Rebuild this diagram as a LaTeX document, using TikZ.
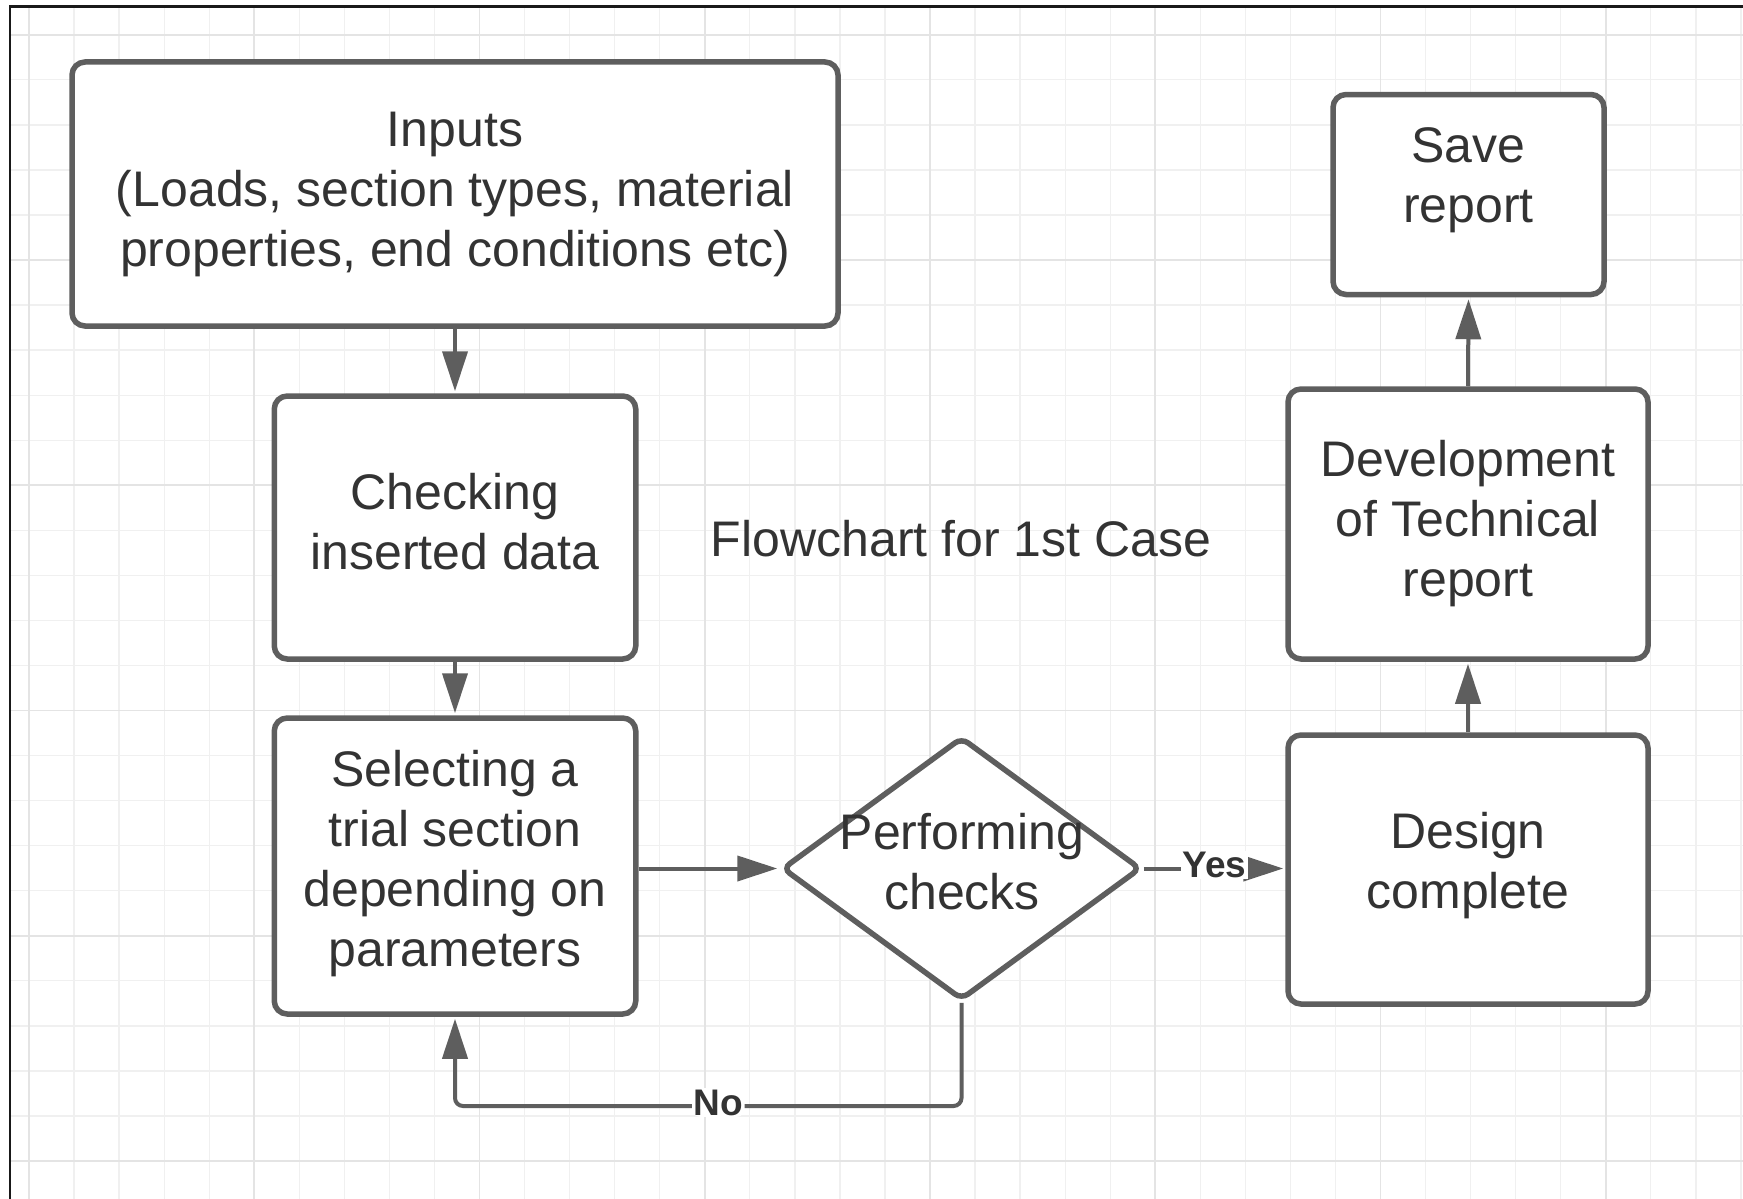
\documentclass[tikz,border=0pt]{standalone}
\usepackage{fontspec}
\setmainfont{Liberation Sans}
\usetikzlibrary{arrows.meta,shapes.geometric}
\definecolor{edge}{HTML}{5E5E5E}
\definecolor{ink}{HTML}{333333}
\definecolor{gridlight}{HTML}{F0F0F0}
\definecolor{gridheavy}{HTML}{E4E4E4}
\newcommand\bodyfont{\fontsize{50}{60}\selectfont}
\newcommand\tagfont{\fontsize{37}{44}\selectfont\bfseries}

\begin{document}
\begin{tikzpicture}[x=1pt,y=-1pt,
  box/.style={draw=edge, line width=5.5pt, rounded corners=13pt, fill=white,
    align=center, font=\bodyfont, text=ink, inner sep=0pt},
  decision/.style={diamond, draw=edge, line width=5.5pt, rounded corners=8pt,
    fill=white, inner sep=0pt},
  conn/.style={draw=edge, line width=4pt, shorten >=2pt,
    -{Triangle[length=40pt,width=25pt]}},
  tag/.style={font=\tagfont, text=ink, fill=white, inner sep=1.5pt, yshift=3.5pt},
  plain/.style={font=\bodyfont, text=ink, align=center, inner sep=0pt}]

% page and background
\useasboundingbox (0,0) rectangle (1743,1199);
\fill[white] (0,0) rectangle (1743,1199);

% drawing-board grid
\begin{scope}
  \clip (10,6.5) rectangle (1743,1199);
  \foreach \k in {0,...,38}
    \draw[gridlight, line width=1.3pt] ({29+45.05*\k},0) -- ({29+45.05*\k},1199);
  \foreach \k in {0,...,25}
    \draw[gridlight, line width=1.3pt] (0,{34.75+45.05*\k}) -- (1743,{34.75+45.05*\k});
  \foreach \k in {0,5,...,35}
    \draw[gridheavy, line width=1.7pt] ({29+45.05*\k},0) -- ({29+45.05*\k},1199);
  \foreach \k in {0,5,...,25}
    \draw[gridheavy, line width=1.7pt] (0,{34.75+45.05*\k}) -- (1743,{34.75+45.05*\k});
\end{scope}

% frame
\draw[black!90, line width=2.2pt] (10,1210) -- (10,6.5) -- (1750,6.5);

% process steps
\node[box, minimum width=766pt, minimum height=264pt] (inputs) at (455,194)
  {Inputs\\(Loads, section types, material\\properties, end conditions etc)};
\node[box, minimum width=361.5pt, minimum height=263pt] (checking) at (455,527.5) {};
\node[plain] (checkingtext) at (455,521.5) {Checking\\inserted data};
\node[box, minimum width=361.5pt, minimum height=296pt] (selecting) at (455,866) {};
\node[plain] (selectingtext) at (455,863.5) {Selecting a\\trial section\\depending on\\parameters};
\node[decision, minimum width=359pt, minimum height=263pt] (checks) at (961.5,868.5) {};
\node[plain] (checkstext) at (962,862) {Performing\\checks};
\node[box, minimum width=360pt, minimum height=269pt] (design) at (1468,869.5) {};
\node[plain] (designtext) at (1468,866) {Design\\complete};
\node[box, minimum width=360pt, minimum height=270pt] (develop) at (1468,524)
  {Development\\of Technical\\report};
\node[box, minimum width=271pt, minimum height=200pt] (save) at (1468.5,194.5) {};
\node[plain] (savetext) at (1468.5,180) {Save\\report};

% caption
\node[plain] (title) at (961,539) {Flowchart for 1st Case};

% connectors
\draw[conn] (inputs.south) -- (checking.north);
\draw[conn] (checking.south) -- (selecting.north);
\draw[conn] (selecting.east |- checks.west) -- (checks.west);
\draw[conn] (checks.east) -- node[tag] (yes) {Yes} (checks.east -| design.west);
\draw[conn] (design.north) -- (develop.south);
\draw[conn] (develop.north) -- (save.south);
\coordinate (loopy) at (0,1106);
\draw[conn, rounded corners=8pt] (checks.south) -- (checks.south |- loopy)
  -- node[tag, pos=0.48] (no) {No} (selecting.south |- loopy) -- (selecting.south);
\end{tikzpicture}
\end{document}
